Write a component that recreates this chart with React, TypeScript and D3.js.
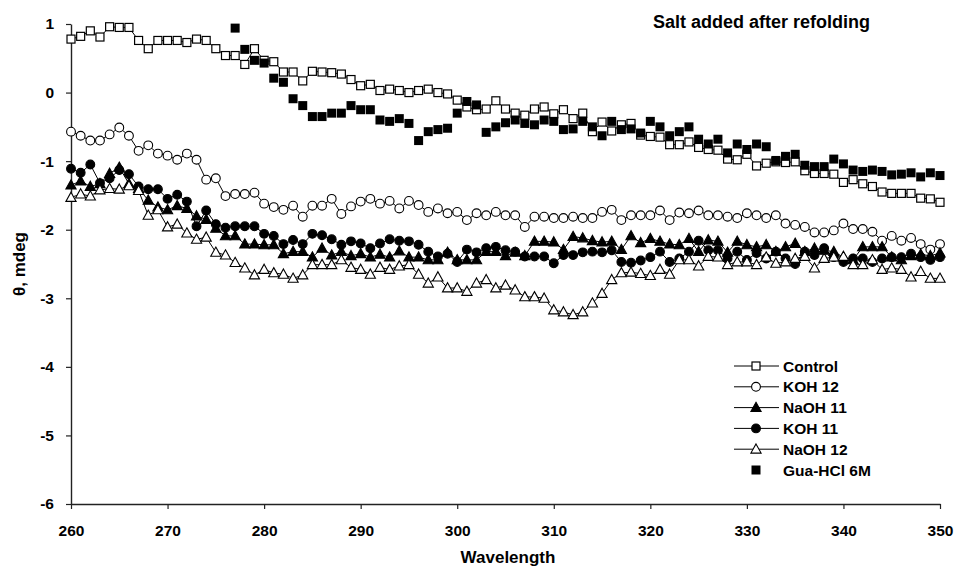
import React, { useRef, useEffect } from 'react';
import * as d3 from 'd3';

const wavelengths = d3.range(260, 351);

const control = [0.78, 0.82, 0.90, 0.81, 0.96, 0.95, 0.95, 0.76, 0.64, 0.76, 0.76, 0.76, 0.73, 0.78, 0.76, 0.64, 0.54, 0.54, 0.41, 0.64,
  0.47, 0.45, 0.30, 0.30, 0.17, 0.31, 0.30, 0.29, 0.27, 0.19, 0.10, 0.12, 0.03, 0.05, 0.03, 0.00, 0.03, 0.05, 0.00, -0.02,
  -0.11, -0.21, -0.25, -0.24, -0.12, -0.24, -0.30, -0.33, -0.24, -0.21, -0.31, -0.25, -0.38, -0.30, -0.57, -0.43, -0.56, -0.47, -0.45, -0.62,
  -0.64, -0.65, -0.76, -0.76, -0.72, -0.80, -0.83, -0.84, -0.97, -0.98, -0.90, -1.07, -1.03, -1.01, -1.02, -1.01, -1.14, -1.18, -1.18, -1.19,
  -1.31, -1.27, -1.33, -1.37, -1.45, -1.47, -1.47, -1.47, -1.54, -1.55, -1.60];

const koh12 = [-0.57, -0.63, -0.70, -0.70, -0.61, -0.51, -0.63, -0.85, -0.77, -0.89, -0.92, -0.98, -0.89, -0.98, -1.27, -1.25, -1.51, -1.48, -1.48, -1.46,
  -1.62, -1.67, -1.71, -1.65, -1.81, -1.65, -1.65, -1.55, -1.77, -1.66, -1.59, -1.55, -1.62, -1.58, -1.69, -1.58, -1.64, -1.74, -1.69, -1.76,
  -1.74, -1.86, -1.76, -1.79, -1.74, -1.79, -1.79, -1.96, -1.81, -1.81, -1.83, -1.83, -1.81, -1.83, -1.83, -1.74, -1.71, -1.86, -1.79, -1.79,
  -1.79, -1.72, -1.86, -1.75, -1.76, -1.72, -1.79, -1.79, -1.81, -1.83, -1.76, -1.79, -1.83, -1.79, -1.91, -1.93, -1.96, -2.04, -2.04, -2.01,
  -1.91, -1.99, -1.99, -2.03, -2.16, -2.09, -2.16, -2.12, -2.21, -2.29, -2.21];

const naoh11 = [-1.35, -1.29, -1.37, -1.33, -1.18, -1.09, -1.33, -1.40, -1.57, -1.67, -1.71, -1.65, -1.69, -1.80, -1.85, -1.98, -2.09, -2.09, -2.21, -2.21,
  -2.22, -2.22, -2.35, -2.32, -2.32, -2.40, -2.27, -2.37, -2.32, -2.38, -2.35, -2.40, -2.36, -2.40, -2.31, -2.40, -2.40, -2.44, -2.44, -2.33,
  -2.44, -2.44, -2.44, -2.32, -2.32, -2.38, -2.33, -2.38, -2.17, -2.17, -2.18, -2.29, -2.10, -2.12, -2.16, -2.18, -2.17, -2.29, -2.09, -2.19,
  -2.13, -2.17, -2.21, -2.22, -2.13, -2.32, -2.15, -2.17, -2.33, -2.17, -2.22, -2.25, -2.22, -2.32, -2.25, -2.20, -2.32, -2.27, -2.30, -2.32,
  -2.40, -2.44, -2.25, -2.25, -2.25, -2.40, -2.44, -2.38, -2.36, -2.38, -2.34];

const koh11 = [-1.11, -1.17, -1.05, -1.32, -1.25, -1.13, -1.19, -1.37, -1.41, -1.41, -1.55, -1.49, -1.59, -1.95, -1.72, -1.92, -1.97, -1.95, -1.95, -1.95,
  -2.06, -2.09, -2.21, -2.15, -2.21, -2.06, -2.08, -2.14, -2.22, -2.17, -2.20, -2.27, -2.20, -2.14, -2.16, -2.17, -2.22, -2.32, -2.39, -2.35,
  -2.47, -2.29, -2.33, -2.27, -2.25, -2.30, -2.32, -2.39, -2.39, -2.39, -2.49, -2.37, -2.37, -2.33, -2.32, -2.33, -2.30, -2.47, -2.48, -2.45,
  -2.40, -2.32, -2.47, -2.42, -2.32, -2.16, -2.30, -2.30, -2.42, -2.32, -2.44, -2.34, -2.42, -2.32, -2.42, -2.50, -2.32, -2.37, -2.27, -2.40,
  -2.47, -2.42, -2.42, -2.47, -2.42, -2.40, -2.40, -2.35, -2.40, -2.44, -2.40];

const naoh12 = [-1.53, -1.48, -1.51, -1.42, -1.40, -1.41, -1.36, -1.43, -1.79, -1.71, -1.96, -1.92, -2.05, -2.14, -2.11, -2.33, -2.37, -2.48, -2.56, -2.66,
  -2.58, -2.63, -2.65, -2.71, -2.66, -2.51, -2.51, -2.51, -2.44, -2.55, -2.58, -2.65, -2.55, -2.58, -2.53, -2.51, -2.65, -2.78, -2.69, -2.85,
  -2.85, -2.90, -2.78, -2.73, -2.85, -2.81, -2.88, -2.98, -2.98, -3.00, -3.17, -3.20, -3.24, -3.20, -3.07, -2.93, -2.73, -2.63, -2.62, -2.64,
  -2.67, -2.58, -2.65, -2.44, -2.44, -2.53, -2.39, -2.40, -2.51, -2.47, -2.47, -2.51, -2.40, -2.49, -2.47, -2.42, -2.39, -2.56, -2.42, -2.40,
  -2.39, -2.51, -2.51, -2.44, -2.58, -2.56, -2.58, -2.69, -2.61, -2.71, -2.71];

// starts at 277, nothing measured before
const guaHcl = [null, null, null, null, null, null, null, null, null, null, null, null, null, null, null, null, null,
  0.94, 0.63, 0.47, 0.43, 0.21, 0.15, -0.09, -0.19, -0.35, -0.35, -0.30, -0.30, -0.19, -0.25, -0.25, -0.40, -0.42, -0.38, -0.45, -0.70,
  -0.57, -0.54, -0.52, -0.30, -0.13, -0.18, -0.58, -0.50, -0.44, -0.40, -0.45, -0.47, -0.40, -0.42, -0.54, -0.53, -0.42, -0.50, -0.63,
  -0.42, -0.54, -0.53, -0.59, -0.42, -0.50, -0.63, -0.57, -0.50, -0.68, -0.75, -0.68, -0.88, -0.75, -0.83, -0.75, -0.79, -0.99, -0.93,
  -0.90, -1.06, -1.08, -1.08, -0.97, -1.04, -1.13, -1.15, -1.13, -1.15, -1.20, -1.19, -1.17, -1.23, -1.17, -1.21];

const seriesNames = ['Control', 'KOH 12', 'NaOH 11', 'KOH 11', 'NaOH 12', 'Gua-HCl 6M'];
const seriesValues = [control, koh12, naoh11, koh11, naoh12, guaHcl];
const seriesMarkers = ['openSquare', 'openCircle', 'filledTriangle', 'filledCircle', 'openTriangle', 'filledSquare'];
const seriesLines = [true, true, true, true, true, false];

const xTicks = [260, 270, 280, 290, 300, 310, 320, 330, 340, 350];
const yTicks = [1, 0, -1, -2, -3, -4, -5, -6];

const FONT = '"Liberation Sans", Arial, sans-serif';

function drawMarker(g, kind, x, y) {
  if (kind === 'openSquare' || kind === 'filledSquare') {
    const s = kind === 'openSquare' ? 8 : 9;
    g.append('rect')
      .attr('x', x - s / 2).attr('y', y - s / 2)
      .attr('width', s).attr('height', s)
      .attr('fill', kind === 'openSquare' ? '#fff' : '#000')
      .attr('stroke', '#000').attr('stroke-width', kind === 'openSquare' ? 1.2 : 0);
  } else if (kind === 'openCircle' || kind === 'filledCircle') {
    g.append('circle')
      .attr('cx', x).attr('cy', y).attr('r', 4.4)
      .attr('fill', kind === 'openCircle' ? '#fff' : '#000')
      .attr('stroke', '#000').attr('stroke-width', 1.1);
  } else {
    g.append('path')
      .attr('d', `M${x},${y - 5.3}L${x + 5.1},${y + 3.9}L${x - 5.1},${y + 3.9}Z`)
      .attr('fill', kind === 'openTriangle' ? '#fff' : '#000')
      .attr('stroke', '#000').attr('stroke-width', 1.1);
  }
}

function App() {
  const ref = useRef(null);

  useEffect(() => {
    const svg = d3.select(ref.current);
    svg.selectAll('*').remove();

    const x = d3.scaleLinear().domain([260, 350]).range([71, 940]);
    const y = d3.scaleLinear().domain([-6, 1]).range([504, 24]);

    // axes
    const yAxis = svg.append('g')
      .attr('transform', 'translate(71,0)')
      .call(d3.axisLeft(y).tickValues(yTicks).tickSize(5).tickSizeOuter(0));
    const xAxis = svg.append('g')
      .attr('transform', 'translate(0,504)')
      .call(d3.axisBottom(x).tickValues(xTicks).tickSize(5).tickSizeOuter(0));

    [yAxis, xAxis].forEach(a => {
      a.select('.domain').attr('stroke', '#222').attr('stroke-width', 1.4);
      a.selectAll('.tick line').attr('stroke', '#222').attr('stroke-width', 1.2);
      a.selectAll('.tick text')
        .attr('font-family', FONT).attr('font-weight', 'bold').attr('font-size', 15.5).attr('fill', '#000');
    });
    yAxis.selectAll('.tick text').attr('x', -17).text(d => String(d));
    xAxis.selectAll('.tick text').attr('y', 21);

    svg.append('text')
      .attr('x', 508).attr('y', 563)
      .attr('text-anchor', 'middle')
      .attr('font-family', FONT).attr('font-weight', 'bold').attr('font-size', 17)
      .text('Wavelength');

    svg.append('text')
      .attr('transform', 'translate(25,264) rotate(-90)')
      .attr('text-anchor', 'middle')
      .attr('font-family', FONT).attr('font-weight', 'bold').attr('font-size', 17)
      .text('θ, mdeg');

    svg.append('text')
      .attr('x', 653).attr('y', 28)
      .attr('font-family', FONT).attr('font-weight', 'bold').attr('font-size', 18)
      .text('Salt added after refolding');

    // series lines
    const line = d3.line()
      .defined(d => d[1] !== null)
      .x(d => x(d[0]))
      .y(d => y(d[1]));

    seriesValues.forEach((vals, i) => {
      if (!seriesLines[i]) return;
      svg.append('path')
        .datum(wavelengths.map((w, j) => [w, vals[j]]))
        .attr('d', line)
        .attr('fill', 'none')
        .attr('stroke', '#000')
        .attr('stroke-width', 1);
    });

    // markers
    seriesValues.forEach((vals, i) => {
      const g = svg.append('g');
      wavelengths.forEach((w, j) => {
        if (vals[j] === null) return;
        drawMarker(g, seriesMarkers[i], x(w), y(vals[j]));
      });
    });

    // legend
    const legend = svg.append('g');
    seriesNames.forEach((name, i) => {
      const ly = 366 + i * 20.8;
      if (seriesLines[i]) {
        legend.append('line')
          .attr('x1', 734).attr('x2', 779).attr('y1', ly).attr('y2', ly)
          .attr('stroke', '#000').attr('stroke-width', 1);
      }
      drawMarker(legend, seriesMarkers[i], 756, ly);
      legend.append('text')
        .attr('x', 783).attr('y', ly + 5.5)
        .attr('font-family', FONT).attr('font-weight', 'bold').attr('font-size', 15.5)
        .text(name);
    });
  }, []);

  return (
    <svg ref={ref} width={957} height={569}
      style={{ position: 'absolute', left: 0, top: 0, background: '#fff' }} />
  );
}

export default App;
